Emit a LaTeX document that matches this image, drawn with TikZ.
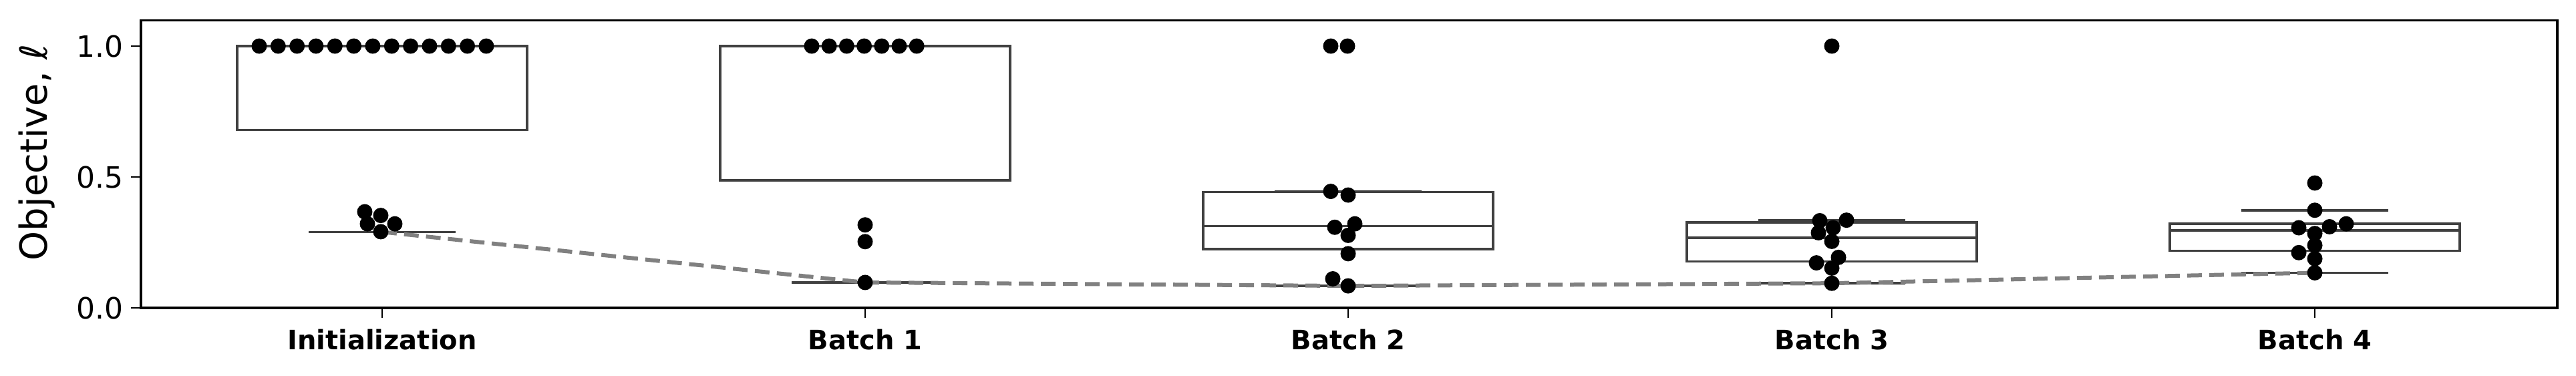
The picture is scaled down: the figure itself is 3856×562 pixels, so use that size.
\documentclass[tikz,border=0pt]{standalone}
\usepackage{fontspec}
\setmainfont{DejaVu Sans}
\begin{document}
\begin{tikzpicture}[x=1pt,y=1pt,
  boxst/.style={draw=black!75,line width=3.5pt},
  dot/.style={circle,fill=black,inner sep=0pt,minimum size=23pt},
  tick/.style={line width=2.5pt},
  ticklab/.style={font=\fontsize{44}{44}\selectfont},
  catlab/.style={font=\fontsize{40}{40}\selectfont\bfseries},
  trend/.style={draw=black!50,line width=6pt,dash pattern=on 22pt off 11pt}]
\useasboundingbox (0,0) rectangle (3856,-562);
\begin{scope}[yshift=-461pt,y=392pt]
% boxes
\foreach \c/\lo/\hi/\med/\wlo/\whi in {572/0.68/1.0/1.0/0.29/1.0, 1295/0.487/1.0/1.0/0.097/1.0, 2018/0.225/0.442/0.312/0.084/0.445, 2742/0.177/0.327/0.268/0.094/0.335, 3465/0.218/0.321/0.296/0.134/0.373}{
  \draw[boxst] (\c-217,\lo) rectangle (\c+217,\hi);
  \draw[boxst] (\c-217,\med) -- (\c+217,\med);
  \draw[boxst] (\c-110,\wlo) -- (\c+110,\wlo);
  \draw[boxst] (\c-110,\whi) -- (\c+110,\whi);
}
% trend
\coordinate (m0) at (572,0.29);
\coordinate (m1) at (1295,0.097);
\coordinate (m2) at (2018,0.084);
\coordinate (m3) at (2742,0.094);
\coordinate (m4) at (3465,0.134);
\draw[trend] (m0) -- (m1) -- (m2) -- (m3) -- (m4);
% dots
\foreach \i in {0,...,12}{ \node[dot] (a\i) at (388+28.33*\i,1.0) {}; }
\foreach \x/\v [count=\k] in {546/0.367,570/0.353,550/0.321,591/0.321,570/0.291}{ \node[dot] (ai\k) at (\x,\v) {}; }
\foreach \i in {0,...,6}{ \node[dot] (b\i) at (1215+26.2*\i,1.0) {}; }
\foreach \x/\v [count=\k] in {1295/0.317,1295/0.253,1295/0.097}{ \node[dot] (bi\k) at (\x,\v) {}; }
\foreach \x/\v [count=\k] in {1992/1.0,2017/1.0,1992/0.445,2018/0.431,2028/0.321,1998/0.308,2018/0.277,2018/0.207,1995/0.111,2018/0.084}{ \node[dot] (c\k) at (\x,\v) {}; }
\foreach \x/\v [count=\k] in {2742/1.0,2724/0.333,2764/0.335,2744/0.306,2722/0.287,2742/0.254,2752/0.193,2719/0.172,2742/0.152,2742/0.094}{ \node[dot] (d\k) at (\x,\v) {}; }
\foreach \x/\v [count=\k] in {3465/0.477,3465/0.373,3512/0.321,3487/0.310,3441/0.306,3465/0.284,3465/0.239,3441/0.211,3465/0.188,3465/0.134}{ \node[dot] (e\k) at (\x,\v) {}; }
% axes
\draw[line width=3.5pt] (211,0) rectangle (3828,1.098);
\foreach \v in {0.0,0.5,1.0}{
  \draw[tick] (196,\v) -- (211,\v);
  \node[ticklab,anchor=east] (yl\v) at (188,\v) {\v};
}
\foreach \c/\t in {572/Initialization,1295/Batch 1,2018/Batch 2,2742/Batch 3,3465/Batch 4}{
  \draw[tick] (\c,0) -- (\c,-0.038);
  \node[catlab,anchor=base] (xl\c) at (\c,-0.16) {\t};
}
\end{scope}
\node[rotate=90,font=\fontsize{56}{56}\selectfont] (ylab) at (55,-228) {Objective, {\itshape ℓ}};
\end{tikzpicture}
\end{document}
